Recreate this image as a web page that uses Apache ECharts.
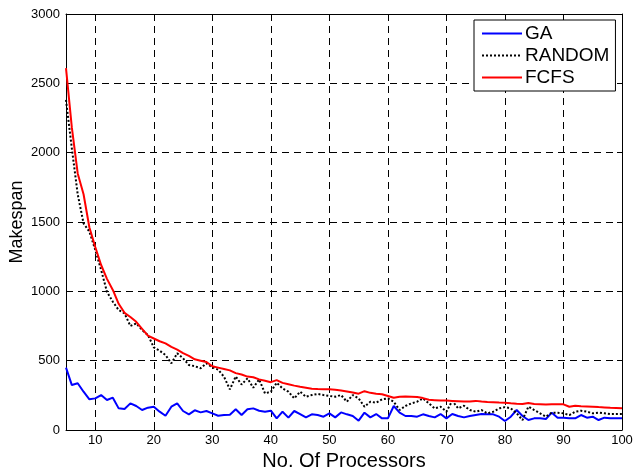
<!DOCTYPE html>
<html>
<head>
<meta charset="utf-8">
<script src="https://cdn.jsdelivr.net/npm/echarts@6/dist/echarts.min.js"></script>
<style>
  html, body { margin: 0; padding: 0; background: #fff; }
  #chart { width: 633px; height: 471px; }
</style>
</head>
<body>
<div id="chart"></div>
<script>
// Number of processors: 5 .. 100
const processors = [];
for (let p = 5; p <= 100; p++) processors.push(p);

// Makespan per scheduler
const gaMakespan = [
  450, 324, 337, 276, 221, 228, 252, 216, 233, 156,
  151, 192, 173, 144, 161, 168, 132, 103, 168, 192,
  137, 113, 142, 127, 137, 120, 103, 108, 110, 149,
  108, 149, 156, 139, 132, 139, 84, 132, 89, 137,
  115, 91, 113, 108, 96, 120, 91, 127, 113, 101,
  67, 125, 91, 115, 84, 84, 173, 125, 101, 101,
  96, 113, 101, 91, 115, 84, 115, 101, 91, 101,
  108, 115, 113, 113, 96, 65, 96, 144, 101, 72,
  84, 84, 79, 125, 89, 89, 84, 84, 108, 89,
  96, 72, 89, 84, 84, 84
];

const randomMakespan = [
  2380, 2030, 1700, 1490, 1430, 1300, 1154, 997, 925, 865,
  841, 750, 769, 721, 685, 596, 572, 541, 481, 553,
  517, 469, 460, 445, 481, 452, 435, 384, 293, 386,
  328, 372, 305, 365, 264, 276, 341, 300, 276, 228,
  276, 240, 252, 260, 252, 245, 240, 252, 204, 252,
  228, 168, 204, 197, 221, 228, 204, 144, 173, 192,
  204, 228, 192, 156, 168, 132, 211, 156, 175, 144,
  132, 144, 120, 132, 156, 165, 156, 120, 72, 168,
  144, 120, 96, 125, 125, 120, 108, 132, 139, 132,
  120, 125, 120, 115, 115, 115
];

const fcfsMakespan = [
  2610, 2180, 1850, 1700, 1460, 1320, 1190, 1090, 1010, 910,
  845, 815, 780, 730, 680, 660, 640, 625, 600, 580,
  555, 535, 510, 500, 490, 460, 450, 440, 430, 410,
  400, 385, 380, 365, 355, 345, 360, 340, 330, 320,
  312, 305, 298, 295, 293, 293, 290, 285, 278, 270,
  262, 280, 268, 262, 258, 245, 232, 240, 242, 240,
  238, 230, 218, 215, 212, 212, 210, 208, 205, 206,
  210, 205, 202, 200, 198, 197, 193, 190, 188, 195,
  188, 186, 184, 186, 185, 185, 168, 175, 172, 170,
  168, 165, 163, 160, 158, 156
];

const xTicks = [10, 20, 30, 40, 50, 60, 70, 80, 90, 100];
const yTicks = [0, 500, 1000, 1500, 2000, 2500, 3000];

const FONT = 'Liberation Sans, Arial, sans-serif';

const pairs = (ys) => processors.map((p, i) => [p, ys[i]]);

const gridLine = { show: true, lineStyle: { color: '#000', type: [7, 5], width: 1 } };
const frameLine = { show: true, onZero: false, lineStyle: { color: '#000', width: 1 } };
const innerTick = { show: true, inside: true, length: 5, lineStyle: { color: '#000' } };

const chart = echarts.init(document.getElementById('chart'), null, { renderer: 'canvas' });
chart.setOption({
  animation: false,
  backgroundColor: '#fff',
  grid: { left: 66, right: 11, top: 14, bottom: 41, containLabel: false, outerBoundsMode: 'none' },
  xAxis: [
    {
      type: 'value', min: 5, max: 100,
      name: 'No. Of Processors', nameLocation: 'middle', nameGap: 18,
      nameTextStyle: { fontFamily: FONT, fontSize: 20, color: '#000' },
      axisLine: frameLine,
      axisTick: Object.assign({ customValues: xTicks }, innerTick),
      axisLabel: { customValues: xTicks, fontFamily: FONT, fontSize: 13, color: '#000', margin: 4 },
      splitLine: gridLine
    },
    {
      type: 'value', min: 5, max: 100, position: 'top',
      axisLine: frameLine,
      axisTick: Object.assign({ customValues: xTicks }, innerTick),
      axisLabel: { show: false },
      splitLine: { show: false }
    }
  ],
  yAxis: [
    {
      type: 'value', min: 0, max: 3000, interval: 500,
      name: 'Makespan', nameLocation: 'middle', nameGap: 40, nameMoveOverlap: false,
      nameTextStyle: { fontFamily: FONT, fontSize: 18, color: '#000' },
      axisLine: frameLine,
      axisTick: innerTick,
      axisLabel: { customValues: yTicks, formatter: (v) => String(v), fontFamily: FONT, fontSize: 13, color: '#000', margin: 6 },
      splitLine: gridLine
    },
    {
      type: 'value', min: 0, max: 3000, interval: 500, position: 'right',
      axisLine: frameLine,
      axisTick: innerTick,
      axisLabel: { show: false },
      splitLine: { show: false }
    }
  ],
  legend: {
    orient: 'vertical',
    left: 474, top: 20,
    padding: [4, 6, 4, 7],
    itemGap: 3,
    itemWidth: 40, itemHeight: 20,
    backgroundColor: '#fff',
    borderColor: '#000', borderWidth: 1,
    itemStyle: { opacity: 0 },
    textStyle: { fontFamily: FONT, fontSize: 19, color: '#000', padding: [0, 0, 0, -2] },
    data: ['GA', 'RANDOM', 'FCFS']
  },
  series: [
    {
      name: 'GA', type: 'line', data: pairs(gaMakespan),
      showSymbol: false, symbol: 'none',
      lineStyle: { color: '#0000ff', width: 2 }, itemStyle: { color: '#0000ff' }
    },
    {
      name: 'RANDOM', type: 'line', data: pairs(randomMakespan),
      showSymbol: false, symbol: 'none',
      lineStyle: { color: '#000', width: 2, type: [2, 2] }, itemStyle: { color: '#000' }
    },
    {
      name: 'FCFS', type: 'line', data: pairs(fcfsMakespan),
      showSymbol: false, symbol: 'none',
      lineStyle: { color: '#ff0000', width: 2 }, itemStyle: { color: '#ff0000' }
    }
  ]
});
</script>
</body>
</html>
